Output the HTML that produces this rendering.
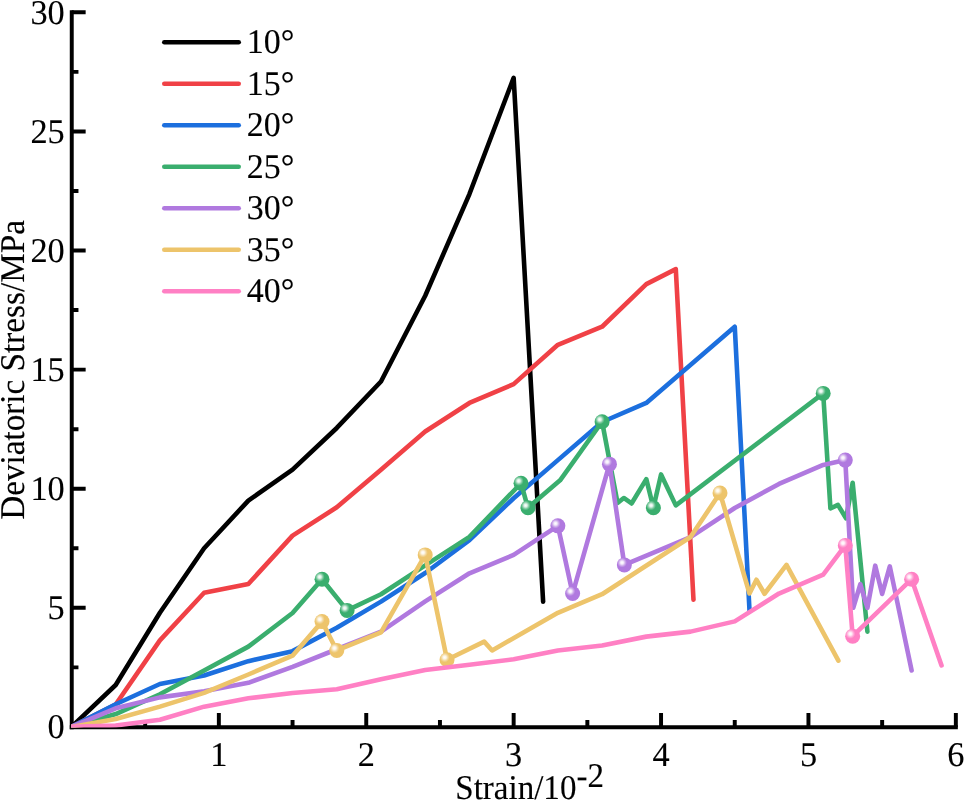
<!DOCTYPE html>
<html><head><meta charset="utf-8"><title>Deviatoric stress vs strain</title>
<style>
html,body{margin:0;padding:0;background:#fff;}
svg{display:block;will-change:transform;}
text{font-family:"Liberation Serif",serif;font-size:34.67px;fill:#000;stroke:#000;stroke-width:0.12px;text-rendering:geometricPrecision;}
</style></head><body>
<svg width="964" height="800" viewBox="0 0 964 800">
<rect width="964" height="800" fill="#fff"/>
<defs>
<radialGradient id="hl" cx="0.345" cy="0.345" r="0.33" fx="0.345" fy="0.345"><stop offset="0" stop-color="#fff" stop-opacity="1"/><stop offset="0.3" stop-color="#fff" stop-opacity="0.85"/><stop offset="0.7" stop-color="#fff" stop-opacity="0.3"/><stop offset="1" stop-color="#fff" stop-opacity="0"/></radialGradient>
<clipPath id="fr"><rect x="71.1" y="0" width="900" height="727.6"/></clipPath>
</defs>
<g stroke="#000" stroke-width="3.95" fill="none" stroke-linecap="butt">
<path d="M71.75 10.32V729.18"/>
<path d="M69.78 727.2H957.83"/>
<path d="M71.75 667.35h6.7M71.75 607.80h13.9M71.75 548.25h6.7M71.75 488.70h13.9M71.75 429.15h6.7M71.75 369.60h13.9M71.75 310.05h6.7M71.75 250.50h13.9M71.75 190.95h6.7M71.75 131.40h13.9M71.75 71.85h6.7M71.75 12.30h13.9"/>
<path d="M145.15 727.2v-7.1M218.85 727.2v-14.1M292.55 727.2v-7.1M366.25 727.2v-14.1M439.95 727.2v-7.1M513.65 727.2v-14.1M587.35 727.2v-7.1M661.05 727.2v-14.1M734.75 727.2v-7.1M808.45 727.2v-14.1M882.15 727.2v-7.1M955.85 727.2v-14.1"/>
</g>
<text transform="translate(64.70 738.40) scale(0.99 1)" text-anchor="end">0</text>
<text transform="translate(64.70 619.30) scale(0.99 1)" text-anchor="end">5</text>
<text transform="translate(64.70 500.20) scale(0.99 1)" text-anchor="end">10</text>
<text transform="translate(64.70 381.10) scale(0.99 1)" text-anchor="end">15</text>
<text transform="translate(64.70 262.00) scale(0.99 1)" text-anchor="end">20</text>
<text transform="translate(64.70 142.90) scale(0.99 1)" text-anchor="end">25</text>
<text transform="translate(64.70 23.80) scale(0.99 1)" text-anchor="end">30</text>
<text transform="translate(218.85 765.50) scale(0.99 1)" text-anchor="middle">1</text>
<text transform="translate(366.25 765.50) scale(0.99 1)" text-anchor="middle">2</text>
<text transform="translate(513.65 765.50) scale(0.99 1)" text-anchor="middle">3</text>
<text transform="translate(661.05 765.50) scale(0.99 1)" text-anchor="middle">4</text>
<text transform="translate(808.45 765.50) scale(0.99 1)" text-anchor="middle">5</text>
<text transform="translate(955.85 765.50) scale(0.99 1)" text-anchor="middle">6</text>
<text transform="translate(455.30 799.30) scale(0.953 1)" text-anchor="start">Strain/10<tspan dy="-11.9">-2</tspan></text>
<text transform="translate(24.10 519.80) rotate(-90) scale(0.958 1)" text-anchor="start">Deviatoric Stress/MPa</text>
<path d="M164.3 42.25H238.7" stroke="#000000" stroke-width="4.6" stroke-linecap="round" fill="none"/>
<text transform="translate(246.80 53.25) scale(0.98 1)" text-anchor="start">10°</text>
<path d="M164.3 83.75H238.7" stroke="#F04146" stroke-width="4.6" stroke-linecap="round" fill="none"/>
<text transform="translate(246.80 94.75) scale(0.98 1)" text-anchor="start">15°</text>
<path d="M164.3 125.25H238.7" stroke="#1C6FDE" stroke-width="4.6" stroke-linecap="round" fill="none"/>
<text transform="translate(246.80 136.25) scale(0.98 1)" text-anchor="start">20°</text>
<path d="M164.3 166.75H238.7" stroke="#3AAE6E" stroke-width="4.6" stroke-linecap="round" fill="none"/>
<text transform="translate(246.80 177.75) scale(0.98 1)" text-anchor="start">25°</text>
<path d="M164.3 208.25H238.7" stroke="#B079DF" stroke-width="4.6" stroke-linecap="round" fill="none"/>
<text transform="translate(246.80 219.25) scale(0.98 1)" text-anchor="start">30°</text>
<path d="M164.3 249.75H238.7" stroke="#EDC46B" stroke-width="4.6" stroke-linecap="round" fill="none"/>
<text transform="translate(246.80 260.75) scale(0.98 1)" text-anchor="start">35°</text>
<path d="M164.3 291.25H238.7" stroke="#FF80C4" stroke-width="4.6" stroke-linecap="round" fill="none"/>
<text transform="translate(246.80 302.25) scale(0.98 1)" text-anchor="start">40°</text>
<g clip-path="url(#fr)">
<path d="M71.45 726.90L115.67 684.98L159.89 612.80L204.11 548.25L248.33 500.61L292.55 469.64L336.77 427.96L380.99 381.51L425.21 295.76L469.43 194.05L513.65 77.80L543.13 601.61" stroke="#000000" stroke-width="4.6" fill="none" stroke-linejoin="round" stroke-linecap="round"/>
<path d="M71.45 726.90L115.67 704.51L159.89 640.43L204.11 592.79L248.33 583.98L292.55 535.63L336.77 507.28L380.99 469.64L425.21 431.53L469.43 402.95L513.65 384.13L557.87 344.83L602.09 326.72L646.31 284.09L675.79 269.08L693.48 599.70" stroke="#F04146" stroke-width="4.6" fill="none" stroke-linejoin="round" stroke-linecap="round"/>
<path d="M71.45 726.90L115.67 704.27L159.89 684.02L204.11 675.45L248.33 661.16L292.55 651.15L336.77 627.81L380.99 601.61L425.21 573.02L469.43 540.15L513.65 498.23L557.87 460.12L602.09 422.00L646.31 402.95L734.75 326.72L749.49 610.42" stroke="#1C6FDE" stroke-width="4.6" fill="none" stroke-linejoin="round" stroke-linecap="round"/>
<path d="M71.45 726.90L115.67 714.04L159.89 694.27L204.11 670.45L248.33 646.63L292.55 613.04L322.03 579.22L347.09 610.42L380.99 594.22L425.21 565.40L469.43 536.82L521.02 483.22L527.95 507.76L560.08 480.36L602.09 421.77L617.57 502.99L623.76 497.99L631.57 503.47L646.31 479.17L653.39 507.76L661.05 474.41L675.79 505.37L823.19 393.42L830.41 508.47L837.93 504.90L846.04 518.24L852.67 482.75L867.41 631.62" stroke="#3AAE6E" stroke-width="4.6" fill="none" stroke-linejoin="round" stroke-linecap="round"/>
<circle cx="322.03" cy="579.22" r="7.5" fill="#3AAE6E"/><circle cx="322.03" cy="579.22" r="7.5" fill="url(#hl)"/>
<circle cx="347.09" cy="610.42" r="7.5" fill="#3AAE6E"/><circle cx="347.09" cy="610.42" r="7.5" fill="url(#hl)"/>
<circle cx="521.02" cy="483.22" r="7.5" fill="#3AAE6E"/><circle cx="521.02" cy="483.22" r="7.5" fill="url(#hl)"/>
<circle cx="527.95" cy="507.76" r="7.5" fill="#3AAE6E"/><circle cx="527.95" cy="507.76" r="7.5" fill="url(#hl)"/>
<circle cx="602.09" cy="421.77" r="7.5" fill="#3AAE6E"/><circle cx="602.09" cy="421.77" r="7.5" fill="url(#hl)"/>
<circle cx="653.39" cy="507.76" r="7.5" fill="#3AAE6E"/><circle cx="653.39" cy="507.76" r="7.5" fill="url(#hl)"/>
<circle cx="823.19" cy="393.42" r="7.5" fill="#3AAE6E"/><circle cx="823.19" cy="393.42" r="7.5" fill="url(#hl)"/>
<path d="M71.45 726.90L115.67 708.32L159.89 697.36L204.11 691.17L248.33 682.83L292.55 666.87L336.77 649.25L380.99 631.62L425.21 601.37L469.43 573.26L513.65 554.92L557.87 525.86L572.61 593.51L609.46 464.17L624.35 564.92L690.53 537.05L734.75 507.99L778.97 483.94L823.19 464.88L845.30 460.12L853.26 607.80L860.33 584.22L867.41 607.80L875.22 565.64L882.15 593.98L889.81 566.35L911.63 670.45" stroke="#B079DF" stroke-width="4.6" fill="none" stroke-linejoin="round" stroke-linecap="round"/>
<circle cx="557.87" cy="525.86" r="7.5" fill="#B079DF"/><circle cx="557.87" cy="525.86" r="7.5" fill="url(#hl)"/>
<circle cx="572.61" cy="593.51" r="7.5" fill="#B079DF"/><circle cx="572.61" cy="593.51" r="7.5" fill="url(#hl)"/>
<circle cx="609.46" cy="464.17" r="7.5" fill="#B079DF"/><circle cx="609.46" cy="464.17" r="7.5" fill="url(#hl)"/>
<circle cx="624.35" cy="564.92" r="7.5" fill="#B079DF"/><circle cx="624.35" cy="564.92" r="7.5" fill="url(#hl)"/>
<circle cx="845.30" cy="460.12" r="7.5" fill="#B079DF"/><circle cx="845.30" cy="460.12" r="7.5" fill="url(#hl)"/>
<path d="M71.45 726.90L115.67 719.04L159.89 706.65L204.11 692.84L248.33 674.50L292.55 655.68L322.03 621.62L336.77 650.44L380.99 632.33L425.21 554.92L447.03 659.73L484.17 641.62L492.13 650.44L557.87 612.80L602.09 594.22L690.53 537.05L720.01 492.99L749.49 593.51L756.42 579.69L764.52 593.75L786.49 564.92L838.37 660.68" stroke="#EDC46B" stroke-width="4.6" fill="none" stroke-linejoin="round" stroke-linecap="round"/>
<circle cx="322.03" cy="621.62" r="7.5" fill="#EDC46B"/><circle cx="322.03" cy="621.62" r="7.5" fill="url(#hl)"/>
<circle cx="336.77" cy="650.44" r="7.5" fill="#EDC46B"/><circle cx="336.77" cy="650.44" r="7.5" fill="url(#hl)"/>
<circle cx="425.21" cy="554.92" r="7.5" fill="#EDC46B"/><circle cx="425.21" cy="554.92" r="7.5" fill="url(#hl)"/>
<circle cx="447.03" cy="659.73" r="7.5" fill="#EDC46B"/><circle cx="447.03" cy="659.73" r="7.5" fill="url(#hl)"/>
<circle cx="720.01" cy="492.99" r="7.5" fill="#EDC46B"/><circle cx="720.01" cy="492.99" r="7.5" fill="url(#hl)"/>
<path d="M71.45 726.90L115.67 725.47L159.89 719.75L204.11 706.65L248.33 698.32L292.55 693.08L336.77 689.26L380.99 679.26L425.21 669.97L469.43 664.73L513.65 659.25L557.87 650.44L602.09 645.44L646.31 636.62L690.53 631.62L734.75 621.38L778.97 593.51L823.19 574.69L845.30 545.39L852.67 636.15L911.63 579.22L941.55 665.44" stroke="#FF80C4" stroke-width="4.6" fill="none" stroke-linejoin="round" stroke-linecap="round"/>
<circle cx="845.30" cy="545.39" r="7.5" fill="#FF80C4"/><circle cx="845.30" cy="545.39" r="7.5" fill="url(#hl)"/>
<circle cx="852.67" cy="636.15" r="7.5" fill="#FF80C4"/><circle cx="852.67" cy="636.15" r="7.5" fill="url(#hl)"/>
<circle cx="911.63" cy="579.22" r="7.5" fill="#FF80C4"/><circle cx="911.63" cy="579.22" r="7.5" fill="url(#hl)"/>
</g>
</svg>
</body></html>
